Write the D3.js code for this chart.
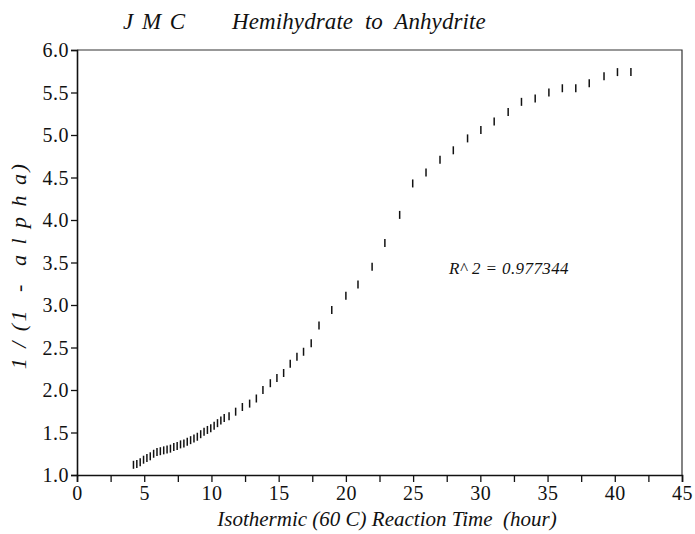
<!DOCTYPE html>
<html>
<head>
<meta charset="utf-8">
<script src="https://cdn.jsdelivr.net/npm/d3@7"></script>
<style>
  body { margin: 0; background: #fff; }
  svg text { font-family: "Liberation Serif", "DejaVu Serif", serif; fill: #111; }
</style>
</head>
<body>
<div id="chart"></div>
<script>
// reaction time (hour) and 1/(1-alpha)
const hours = [
  4.20, 4.45, 4.70, 4.95, 5.20, 5.45, 5.70, 5.95, 6.20, 6.45, 6.70, 6.95, 7.20, 7.45,
  7.70, 7.95, 8.20, 8.45, 8.70, 8.95, 9.20, 9.45, 9.70, 9.95, 10.20, 10.45, 10.70,
  10.95, 11.31, 11.80, 12.30, 12.84, 13.34, 13.83, 14.38, 14.87, 15.37, 15.86, 16.36, 16.85, 17.42,
  18.0, 18.95, 20.0, 20.9, 21.95, 22.9, 24.0, 24.97, 25.96, 27.0, 27.99, 29.05, 30.04,
  31.03, 32.07, 33.06, 34.08, 35.1, 36.1, 37.1, 38.1, 39.2, 40.2, 41.2
];
const ratio = [
  1.12, 1.13, 1.15, 1.18, 1.20, 1.22, 1.25, 1.27, 1.28, 1.29, 1.30, 1.31, 1.33, 1.34,
  1.36, 1.37, 1.39, 1.41, 1.43, 1.45, 1.48, 1.51, 1.53, 1.55, 1.58, 1.61, 1.64,
  1.67, 1.69, 1.745, 1.80, 1.84, 1.90, 2.00, 2.08, 2.14, 2.20, 2.31, 2.39, 2.45, 2.55,
  2.76, 2.94, 3.11, 3.24, 3.45, 3.73, 4.06, 4.43, 4.56, 4.71, 4.82, 4.96, 5.06,
  5.16, 5.27, 5.39, 5.43, 5.50, 5.55, 5.55, 5.61, 5.69, 5.74, 5.74
];
const xTicks = d3.range(0, 45.01, 2.5);
const yTicks = d3.range(1, 6.01, 0.5);
const fitNote = "R^ 2 = 0.977344";

const width = 695, height = 534;
const margin = { top: 50, right: 13, bottom: 59, left: 77 };

const svg = d3.select("#chart").append("svg")
    .attr("width", width)
    .attr("height", height);

const x = d3.scaleLinear().domain([0, 45]).range([margin.left, width - margin.right]);
const y = d3.scaleLinear().domain([1, 6]).range([height - margin.bottom, margin.top]);

// frame (top + right)
svg.append("path")
    .attr("d", `M${x(0)},${y(6)} H${x(45)} V${y(1)}`)
    .attr("fill", "none")
    .attr("stroke", "#333")
    .attr("stroke-width", 1.2);

const xAxis = svg.append("g")
    .attr("transform", `translate(0,${y(1)})`)
    .call(d3.axisBottom(x).tickValues(xTicks).tickSize(7).tickPadding(2)
        .tickFormat(d => d % 5 === 0 ? d : ""));

const yAxis = svg.append("g")
    .attr("transform", `translate(${x(0)},0)`)
    .call(d3.axisLeft(y).tickValues(yTicks).tickSize(6).tickPadding(2)
        .tickFormat(d3.format(".1f")));

[xAxis, yAxis].forEach(a => {
    a.select(".domain").attr("stroke", "#111").attr("stroke-width", 1.6);
    a.selectAll(".tick line").attr("stroke", "#111").attr("stroke-width", 1.3);
    a.selectAll(".tick text")
        .attr("font-family", "Liberation Serif, serif")
        .attr("font-size", 20)
        .attr("letter-spacing", 0.5)
        .attr("fill", "#111");
});
yAxis.selectAll(".tick text").attr("dy", "0.34em");
xAxis.selectAll(".tick text").attr("dy", "0.8em");

// data marks: short vertical dashes
svg.append("g").selectAll("line")
    .data(hours.map((h, i) => [h, ratio[i]]))
    .join("line")
    .attr("x1", d => x(d[0]))
    .attr("x2", d => x(d[0]))
    .attr("y1", d => y(d[1]) - 4)
    .attr("y2", d => y(d[1]) + 4)
    .attr("stroke", "#111")
    .attr("stroke-width", 1.5);

// title
svg.append("text")
    .attr("x", 123).attr("y", 29)
    .attr("font-size", 23).attr("font-style", "italic")
    .attr("letter-spacing", 1.5)
    .text("J M C");
svg.append("text")
    .attr("x", 232).attr("y", 29)
    .attr("font-size", 23).attr("font-style", "italic")
    .attr("letter-spacing", 0.1)
    .attr("xml:space", "preserve")
    .text("Hemihydrate  to  Anhydrite");

svg.append("text")
    .attr("x", 509).attr("y", 274)
    .attr("text-anchor", "middle")
    .attr("font-size", 17).attr("font-style", "italic")
    .attr("letter-spacing", 0.4)
    .attr("xml:space", "preserve")
    .text(fitNote);

svg.append("text")
    .attr("x", 387).attr("y", 526)
    .attr("text-anchor", "middle")
    .attr("font-size", 21).attr("font-style", "italic")
    .attr("xml:space", "preserve")
    .text("Isothermic (60 C) Reaction Time  (hour)");

svg.append("text")
    .attr("transform", `translate(26,${(y(1) + y(6)) / 2 + 3}) rotate(-90)`)
    .attr("text-anchor", "middle")
    .attr("font-size", 22).attr("font-style", "italic")
    .attr("letter-spacing", 2.5)
    .attr("xml:space", "preserve")
    .text("1 / (1  -  a l p h a)");
</script>
</body>
</html>
